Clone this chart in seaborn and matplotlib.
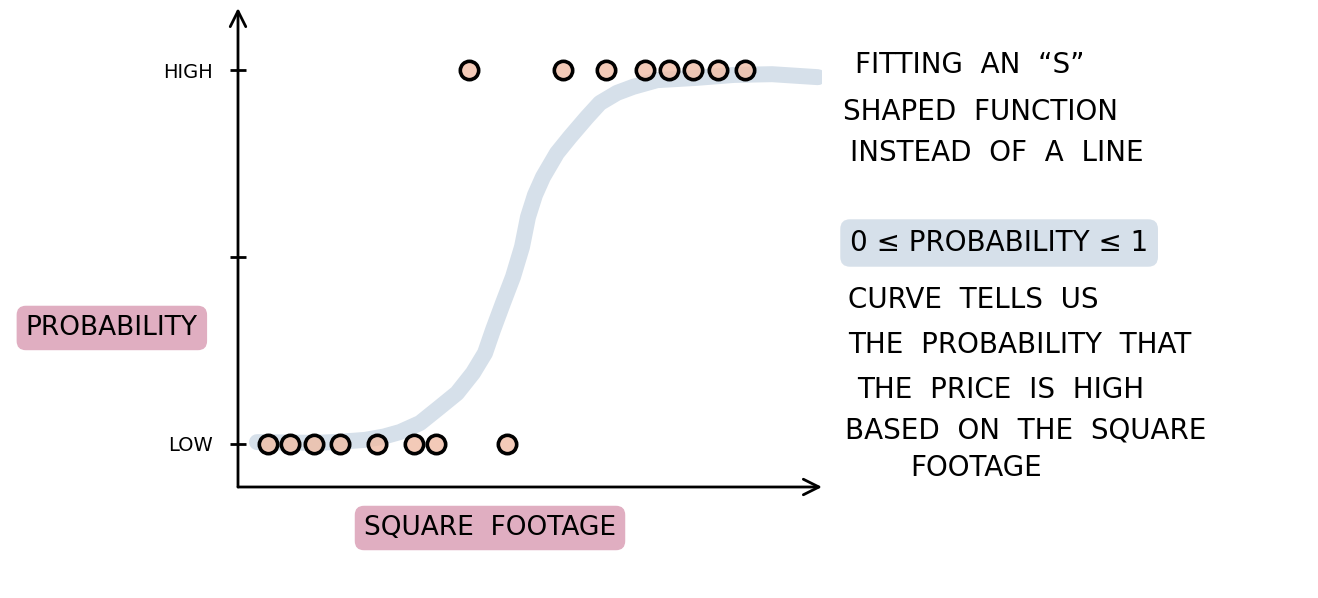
"""
Sketch of a logistic ("S" shaped) fit: probability of a high price vs square footage.
"""

import matplotlib
matplotlib.use("Agg")
import matplotlib.pyplot as plt
import seaborn as sns
import pandas as pd

# observed houses (square footage, 0 = low price, 1 = high price)
low_sqft = [650, 760, 880, 1010, 1195, 1380, 1490, 1845]
high_sqft = [1655, 2125, 2340, 2535, 2655, 2775, 2900, 3035]
low_value = [0, 0, 0, 0, 0, 0, 0, 0]
high_value = [1, 1, 1, 1, 1, 1, 1, 1]

# fitted S curve
curve_sqft = [595, 750, 890, 1010, 1135, 1230, 1310, 1410, 1510, 1595, 1675,
              1735, 1775, 1825, 1875, 1920, 1950, 1985, 2025, 2095, 2160,
              2245, 2310, 2395, 2475, 2595, 2790, 2980, 3170, 3400]
curve_prob = [0.005, 0.004, 0.003, 0.006, 0.011, 0.020, 0.032, 0.056, 0.099,
              0.136, 0.190, 0.243, 0.305, 0.377, 0.447, 0.527, 0.607, 0.666,
              0.714, 0.778, 0.821, 0.874, 0.912, 0.939, 0.955, 0.973, 0.979,
              0.987, 0.989, 0.981]

tick_values = [0, 0.5, 1]
tick_labels = ["LOW", "", "HIGH"]

notes = [
    ("FITTING  AN  \u201cS\u201d", 855, 65),
    ("SHAPED  FUNCTION", 843, 112),
    ("INSTEAD  OF  A  LINE", 850, 153),
    ("CURVE  TELLS  US", 848, 300),
    ("THE  PROBABILITY  THAT", 848, 345),
    ("THE  PRICE  IS  HIGH", 857, 390),
    ("BASED  ON  THE  SQUARE", 845, 430),
    ("FOOTAGE", 910, 468),
]

PINK = "#e0aec1"
BLUE = "#d6e0ea"
PEACH = (0.94, 0.74, 0.65, 0.8)

sns.set_theme(style="white")
plt.rcParams["font.family"] = ["DejaVu Sans"]
plt.rcParams["text.color"] = "black"
plt.rcParams["axes.labelcolor"] = "black"
plt.rcParams["ytick.color"] = "black"

W, H = 1318, 598
fig = plt.figure(figsize=(W / 100, H / 100), dpi=100)
ax = fig.add_axes([238 / W, (H - 487) / H, 584 / W, 479 / H])

# S curve
curve = pd.DataFrame({"sqft": curve_sqft, "prob": curve_prob})
sns.lineplot(data=curve, x="sqft", y="prob", ax=ax, color=BLUE, linewidth=11.5,
             solid_capstyle="round", solid_joinstyle="round", zorder=1)

# data points
points = pd.DataFrame({"sqft": low_sqft + high_sqft,
                       "value": low_value + high_value})
sns.scatterplot(data=points, x="sqft", y="value", ax=ax, s=175,
                facecolor=PEACH, edgecolor="black", linewidth=2.6, zorder=3)

ax.set_xlim(500, 3420)
ax.set_ylim(-0.115, 1.166)

for side in ["top", "right", "left", "bottom"]:
    ax.spines[side].set_visible(False)

# axis arrows
arrow = dict(arrowstyle="->", color="black", lw=2, shrinkA=0, shrinkB=0,
             mutation_scale=28)
ax.annotate("", xy=(0, 1), xytext=(0, 0), xycoords="axes fraction",
            arrowprops=arrow, annotation_clip=False)
ax.annotate("", xy=(1, 0), xytext=(0, 0), xycoords="axes fraction",
            arrowprops=arrow, annotation_clip=False)

ax.set_xticks([])
ax.set_yticks(tick_values)
ax.set_yticklabels(tick_labels)
ax.tick_params(axis="y", direction="inout", length=12, width=2,
               labelsize=14, pad=12, left=True, colors="black")

ax.set_ylabel("PROBABILITY", rotation=0, fontsize=19, ha="center", va="center",
              bbox=dict(boxstyle="round,pad=0.35", fc=PINK, ec="none"))
ax.yaxis.set_label_coords(-0.216, 0.332)
ax.set_xlabel("SQUARE  FOOTAGE", fontsize=19, ha="center", va="center",
              bbox=dict(boxstyle="round,pad=0.35", fc=PINK, ec="none"))
ax.xaxis.set_label_coords(0.4315, -0.0856)

# notes on the right
for text, x, y in notes:
    fig.text(x / W, 1 - y / H, text, fontsize=20, ha="left", va="center",
             color="black")

fig.text(850 / W, 1 - 243 / H, "0 \u2264 PROBABILITY \u2264 1", fontsize=20,
         ha="left", va="center", color="black",
         bbox=dict(boxstyle="round,pad=0.35", fc=BLUE, ec="none"))

fig.savefig("out.png", dpi=100)
plt.close(fig)
